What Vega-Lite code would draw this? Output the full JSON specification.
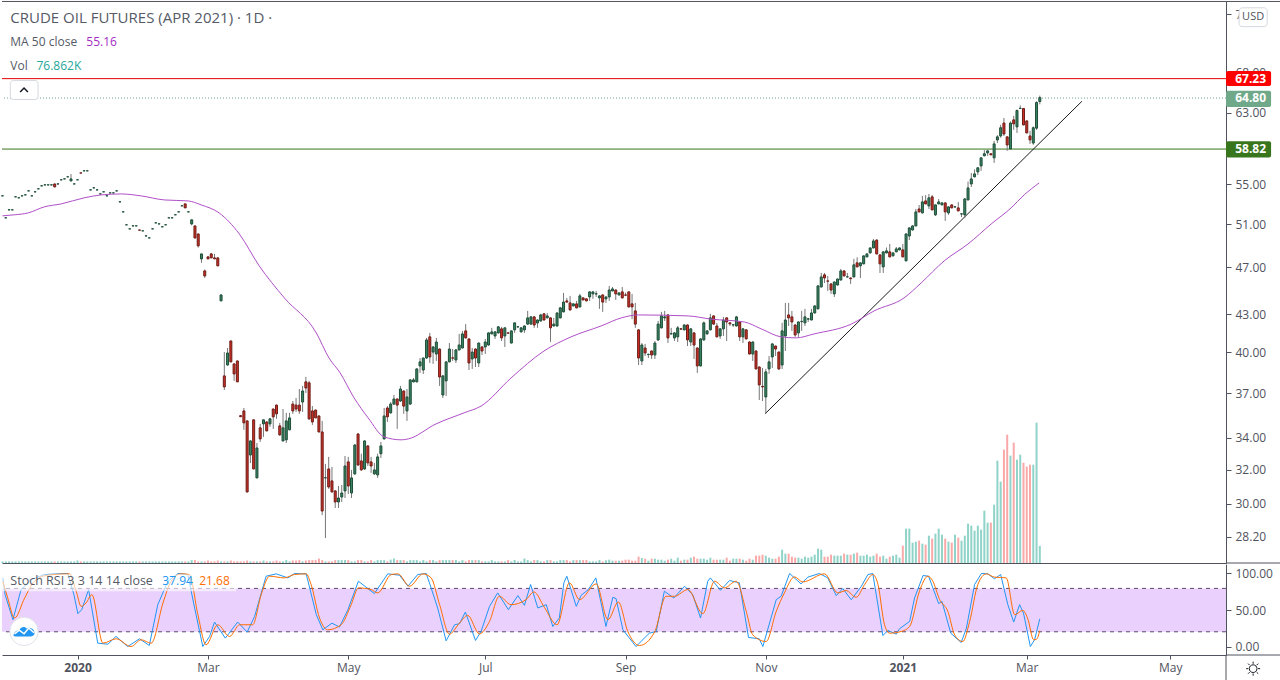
{"$schema":"https://vega.github.io/schema/vega-lite/v6.json","padding":0,"spacing":0,"background":"#ffffff","config":{"view":{"stroke":null},"font":"Open Sans","concat":{"spacing":0},"scale":{"continuousPadding":0},"axis":{"title":null}},
"datasets":{
"ohlc":[
{"i":0,"o":53.82,"h":53.84,"l":53.82,"c":53.83,"v":7},{"i":1,"o":51.62,"h":51.64,"l":51.62,"c":51.63,"v":7},{"i":2,"o":52.41,"h":52.43,"l":52.41,"c":52.42,"v":7},{"i":3,"o":52.41,"h":52.43,"l":52.41,"c":52.42,"v":7},{"i":4,"o":53.72,"h":53.74,"l":53.72,"c":53.73,"v":7},{"i":5,"o":53.62,"h":53.64,"l":53.62,"c":53.63,"v":7},{"i":6,"o":53.82,"h":53.84,"l":53.82,"c":53.83,"v":7},{"i":7,"o":53.92,"h":53.94,"l":53.92,"c":53.93,"v":7},{"i":8,"o":54.33,"h":54.35,"l":54.33,"c":54.34,"v":7},{"i":9,"o":53.82,"h":53.84,"l":53.82,"c":53.83,"v":7},
{"i":10,"o":54.23,"h":54.25,"l":54.23,"c":54.24,"v":7},{"i":11,"o":54.54,"h":54.56,"l":54.54,"c":54.55,"v":7},{"i":12,"o":54.85,"h":54.87,"l":54.85,"c":54.86,"v":7},{"i":13,"o":54.95,"h":54.97,"l":54.95,"c":54.96,"v":7},{"i":14,"o":54.95,"h":54.97,"l":54.95,"c":54.96,"v":7},{"i":15,"o":54.95,"h":54.97,"l":54.95,"c":54.96,"v":7},{"i":16,"o":55.05,"h":55.1,"l":54.7,"c":54.75,"v":7},{"i":17,"o":55.05,"h":55.07,"l":55.05,"c":55.06,"v":7},{"i":18,"o":55.48,"h":55.5,"l":55.48,"c":55.49,"v":7},{"i":19,"o":55.58,"h":55.6,"l":55.58,"c":55.59,"v":7},
{"i":20,"o":55.8,"h":55.82,"l":55.8,"c":55.81,"v":7},{"i":21,"o":55.37,"h":56.1,"l":55.35,"c":55.58,"v":7},{"i":22,"o":55.05,"h":55.07,"l":55.05,"c":55.06,"v":7},{"i":23,"o":55.48,"h":55.5,"l":55.48,"c":55.49,"v":11},{"i":24,"o":56.22,"h":56.24,"l":56.2,"c":56.2,"v":7},{"i":25,"o":56.44,"h":56.46,"l":56.44,"c":56.45,"v":7},{"i":26,"o":56.44,"h":56.46,"l":56.44,"c":56.45,"v":7},{"i":27,"o":54.43,"h":54.45,"l":54.43,"c":54.44,"v":7},{"i":28,"o":54.64,"h":54.66,"l":54.64,"c":54.65,"v":7},{"i":29,"o":54.43,"h":54.45,"l":54.43,"c":54.44,"v":7},
{"i":30,"o":54.02,"h":54.04,"l":54.02,"c":54.03,"v":7},{"i":31,"o":54.23,"h":54.25,"l":54.23,"c":54.24,"v":7},{"i":32,"o":53.82,"h":53.84,"l":53.82,"c":53.83,"v":7},{"i":33,"o":54.12,"h":54.14,"l":54.12,"c":54.13,"v":7},{"i":34,"o":54.12,"h":54.14,"l":54.12,"c":54.13,"v":7},{"i":35,"o":54.33,"h":54.35,"l":54.33,"c":54.34,"v":7},{"i":36,"o":53.21,"h":53.23,"l":53.21,"c":53.22,"v":7},{"i":37,"o":52.21,"h":52.23,"l":52.21,"c":52.22,"v":7},{"i":38,"o":50.94,"h":50.96,"l":50.94,"c":50.95,"v":7},{"i":39,"o":50.55,"h":50.57,"l":50.55,"c":50.56,"v":7},
{"i":40,"o":50.84,"h":50.86,"l":50.84,"c":50.85,"v":7},{"i":41,"o":50.84,"h":50.86,"l":50.84,"c":50.85,"v":7},{"i":42,"o":50.45,"h":50.46,"l":50.43,"c":50.43,"v":7},{"i":43,"o":50.36,"h":50.38,"l":50.36,"c":50.37,"v":7},{"i":44,"o":49.88,"h":49.9,"l":49.88,"c":49.89,"v":7},{"i":45,"o":49.69,"h":49.71,"l":49.69,"c":49.7,"v":7},{"i":46,"o":50.55,"h":50.57,"l":50.55,"c":50.56,"v":7},{"i":47,"o":51.13,"h":51.15,"l":51.13,"c":51.14,"v":7},{"i":48,"o":51.03,"h":51.05,"l":51.03,"c":51.04,"v":7},{"i":49,"o":50.75,"h":50.77,"l":50.75,"c":50.76,"v":7},
{"i":50,"o":50.94,"h":50.96,"l":50.94,"c":50.95,"v":7},{"i":51,"o":51.62,"h":51.64,"l":51.62,"c":51.63,"v":7},{"i":52,"o":51.62,"h":51.64,"l":51.62,"c":51.63,"v":7},{"i":53,"o":51.92,"h":51.94,"l":51.92,"c":51.93,"v":7},{"i":54,"o":52.21,"h":52.23,"l":52.21,"c":52.22,"v":7},{"i":55,"o":52.81,"h":52.83,"l":52.81,"c":52.82,"v":7},{"i":56,"o":53.01,"h":53.05,"l":52.6,"c":52.61,"v":7},{"i":57,"o":52.21,"h":52.23,"l":52.21,"c":52.22,"v":7},{"i":58,"o":51.03,"h":51.45,"l":50.9,"c":51.43,"v":13},{"i":59,"o":50.84,"h":50.88,"l":49.65,"c":49.69,"v":13},
{"i":60,"o":50.07,"h":50.1,"l":48.8,"c":48.95,"v":7},{"i":61,"o":47.76,"h":48.21,"l":47.4,"c":48.21,"v":7},{"i":62,"o":46.68,"h":46.8,"l":46.06,"c":46.24,"v":7},{"i":63,"o":47.94,"h":47.98,"l":47.74,"c":47.76,"v":11},{"i":64,"o":48.21,"h":48.3,"l":47.82,"c":47.85,"v":7},{"i":65,"o":47.85,"h":48.21,"l":47.74,"c":47.76,"v":7},{"i":66,"o":47.85,"h":47.88,"l":47.1,"c":47.13,"v":11},{"i":67,"o":44.1,"h":44.63,"l":44.08,"c":44.6,"v":7},{"i":68,"o":38.25,"h":40.02,"l":37.24,"c":37.46,"v":7},{"i":69,"o":39.05,"h":40.33,"l":39,"c":39.95,"v":7},
{"i":70,"o":40.87,"h":40.9,"l":39.25,"c":39.28,"v":11},{"i":71,"o":39.13,"h":39.15,"l":37.89,"c":38.39,"v":7},{"i":72,"o":39.35,"h":39.38,"l":37.8,"c":37.82,"v":7},{"i":73,"o":35.47,"h":35.5,"l":35.38,"c":35.4,"v":7},{"i":74,"o":35.79,"h":35.99,"l":34.53,"c":34.99,"v":7},{"i":75,"o":35.12,"h":35.15,"l":30.66,"c":30.69,"v":11},{"i":76,"o":32.92,"h":33.85,"l":32.42,"c":33.81,"v":7},{"i":77,"o":35.19,"h":35.22,"l":32.03,"c":32.06,"v":7},{"i":78,"o":31.52,"h":33.68,"l":31.5,"c":33.36,"v":7},{"i":79,"o":34.66,"h":34.92,"l":33.75,"c":33.94,"v":7},
{"i":80,"o":34.92,"h":35.2,"l":34.07,"c":35.19,"v":11},{"i":81,"o":35.05,"h":35.08,"l":34.43,"c":34.46,"v":7},{"i":82,"o":34.92,"h":35.28,"l":34.72,"c":35.26,"v":7},{"i":83,"o":35.92,"h":35.95,"l":34.59,"c":35.39,"v":7},{"i":84,"o":36.19,"h":36.22,"l":35.26,"c":35.59,"v":11},{"i":85,"o":34.79,"h":34.99,"l":34.14,"c":34.2,"v":7},{"i":86,"o":33.81,"h":35.92,"l":33.78,"c":34.66,"v":7},{"i":87,"o":33.88,"h":35.66,"l":33.68,"c":35.12,"v":13},{"i":88,"o":34.53,"h":35.66,"l":34.5,"c":35.32,"v":7},{"i":89,"o":36.26,"h":36.47,"l":35.59,"c":35.79,"v":11},
{"i":90,"o":36.19,"h":36.68,"l":35.72,"c":35.92,"v":11},{"i":91,"o":36.19,"h":37.31,"l":35.59,"c":35.79,"v":13},{"i":92,"o":36.4,"h":37.53,"l":35.72,"c":37.17,"v":7},{"i":93,"o":37.82,"h":38.18,"l":37.03,"c":37.38,"v":11},{"i":94,"o":37.75,"h":37.89,"l":35.2,"c":35.25,"v":13},{"i":95,"o":35.79,"h":36.12,"l":34.85,"c":35.05,"v":13},{"i":96,"o":35.85,"h":35.88,"l":35.3,"c":35.32,"v":13},{"i":97,"o":35.45,"h":35.48,"l":34.37,"c":34.39,"v":20},{"i":98,"o":34.39,"h":35.12,"l":29.37,"c":29.6,"v":13},{"i":99,"o":31.52,"h":32.37,"l":28.12,"c":31.53,"v":7},
{"i":100,"o":32.06,"h":32.8,"l":30.87,"c":30.98,"v":7},{"i":101,"o":31.34,"h":32.18,"l":30.66,"c":30.69,"v":7},{"i":102,"o":30.75,"h":30.78,"l":29.77,"c":30.11,"v":13},{"i":103,"o":30.11,"h":31.04,"l":29.77,"c":30.34,"v":13},{"i":104,"o":30.4,"h":31.1,"l":30.11,"c":30.63,"v":13},{"i":105,"o":30.75,"h":32.86,"l":30.34,"c":32.24,"v":13},{"i":106,"o":32.49,"h":32.8,"l":30.57,"c":31.04,"v":13},{"i":107,"o":30.63,"h":32,"l":30.34,"c":31.52,"v":7},{"i":108,"o":31.76,"h":33.6,"l":31.7,"c":33.55,"v":7},{"i":109,"o":34.26,"h":34.3,"l":32.25,"c":32.3,"v":13},
{"i":110,"o":32.55,"h":33,"l":31.95,"c":32,"v":13},{"i":111,"o":32.06,"h":33.85,"l":32,"c":33.81,"v":7},{"i":112,"o":33.49,"h":33.55,"l":32.24,"c":32.43,"v":7},{"i":113,"o":32.49,"h":32.8,"l":31.82,"c":32.24,"v":13},{"i":114,"o":31.76,"h":32.43,"l":31.7,"c":32,"v":7},{"i":115,"o":31.7,"h":33,"l":31.52,"c":32.8,"v":13},{"i":116,"o":33,"h":33.75,"l":32.74,"c":33.49,"v":13},{"i":117,"o":33.94,"h":36,"l":33.9,"c":35.45,"v":13},{"i":118,"o":35.99,"h":36.12,"l":35.05,"c":35.39,"v":7},{"i":119,"o":35.66,"h":36.4,"l":35.6,"c":36.26,"v":15},
{"i":120,"o":36.26,"h":36.89,"l":36.2,"c":36.61,"v":20},{"i":121,"o":36.61,"h":36.65,"l":34.59,"c":36.19,"v":13},{"i":122,"o":36.47,"h":37.53,"l":36.4,"c":37.31,"v":13},{"i":123,"o":37.17,"h":37.2,"l":35.59,"c":36.12,"v":13},{"i":124,"o":35.79,"h":37.31,"l":35.12,"c":36.75,"v":7},{"i":125,"o":36.26,"h":38,"l":36.2,"c":37.96,"v":13},{"i":126,"o":37.82,"h":38.1,"l":37.78,"c":37.96,"v":13},{"i":127,"o":37.82,"h":38.8,"l":37.78,"c":38.76,"v":13},{"i":128,"o":38.98,"h":39.57,"l":38.47,"c":39.28,"v":7},{"i":129,"o":38.68,"h":39.6,"l":38.39,"c":39.57,"v":13},
{"i":130,"o":39.57,"h":41.11,"l":39.5,"c":40.95,"v":7},{"i":131,"o":41.19,"h":41.5,"l":39.2,"c":39.65,"v":13},{"i":132,"o":40.02,"h":40.45,"l":39.13,"c":40.41,"v":13},{"i":133,"o":39.87,"h":41.11,"l":39.35,"c":40.79,"v":7},{"i":134,"o":40.25,"h":40.3,"l":37.53,"c":38.17,"v":13},{"i":135,"o":36.89,"h":38.3,"l":36.68,"c":38.25,"v":13},{"i":136,"o":37.89,"h":39.3,"l":36.82,"c":39.28,"v":13},{"i":137,"o":39.28,"h":40.71,"l":39.25,"c":40.25,"v":13},{"i":138,"o":39.58,"h":40.25,"l":39.35,"c":39.56,"v":13},{"i":139,"o":39.42,"h":40.25,"l":39.2,"c":40.18,"v":13},
{"i":140,"o":40.18,"h":41.42,"l":40.15,"c":40.56,"v":7},{"i":141,"o":40.33,"h":41.66,"l":40.3,"c":41.42,"v":13},{"i":142,"o":41.66,"h":42.2,"l":41.05,"c":41.11,"v":7},{"i":143,"o":41.03,"h":41.06,"l":38.68,"c":39.2,"v":13},{"i":144,"o":39.5,"h":40.33,"l":38.76,"c":40.02,"v":13},{"i":145,"o":40.25,"h":40.3,"l":38.9,"c":39.57,"v":13},{"i":146,"o":39.2,"h":40.75,"l":38.9,"c":40.71,"v":13},{"i":147,"o":40.41,"h":40.45,"l":39.8,"c":40.1,"v":7},{"i":148,"o":40.41,"h":41.03,"l":39.87,"c":40.79,"v":7},{"i":149,"o":40.56,"h":41.55,"l":40.5,"c":41.5,"v":7},
{"i":150,"o":41.42,"h":41.9,"l":41.4,"c":41.58,"v":13},{"i":151,"o":41.26,"h":41.62,"l":41.03,"c":41.58,"v":7},{"i":152,"o":41.5,"h":42.05,"l":41.45,"c":41.98,"v":7},{"i":153,"o":41.82,"h":41.98,"l":40.87,"c":41.11,"v":7},{"i":154,"o":41.26,"h":41.95,"l":40.41,"c":41.9,"v":7},{"i":155,"o":41.5,"h":41.55,"l":41.45,"c":41.48,"v":13},{"i":156,"o":40.71,"h":41.7,"l":40.68,"c":41.66,"v":7},{"i":157,"o":41.74,"h":42.3,"l":41.5,"c":42.3,"v":13},{"i":158,"o":41.98,"h":42.05,"l":41.9,"c":41.99,"v":7},{"i":159,"o":41.58,"h":41.95,"l":41.55,"c":41.9,"v":7},
{"i":160,"o":41.74,"h":42.1,"l":41.5,"c":42.05,"v":20},{"i":161,"o":42.2,"h":43.27,"l":42.15,"c":42.7,"v":13},{"i":162,"o":42.2,"h":42.85,"l":42.15,"c":42.78,"v":7},{"i":163,"o":42.78,"h":42.86,"l":41.9,"c":42.13,"v":13},{"i":164,"o":42.29,"h":42.58,"l":41.9,"c":42.53,"v":13},{"i":165,"o":42.45,"h":43.03,"l":42.4,"c":42.94,"v":7},{"i":166,"o":43.03,"h":43.08,"l":42.5,"c":42.53,"v":7},{"i":167,"o":42.7,"h":43.1,"l":42.66,"c":42.86,"v":13},{"i":168,"o":42.7,"h":42.75,"l":40.8,"c":41.9,"v":13},{"i":169,"o":42.05,"h":42.7,"l":42,"c":42.2,"v":7},
{"i":170,"o":42.05,"h":43.15,"l":42,"c":43.1,"v":7},{"i":171,"o":42.7,"h":43.6,"l":42.66,"c":43.52,"v":13},{"i":172,"o":43.19,"h":44.77,"l":43.15,"c":44,"v":13},{"i":173,"o":44.1,"h":44.35,"l":43.96,"c":44,"v":13},{"i":174,"o":43.93,"h":44.52,"l":43.3,"c":43.35,"v":7},{"i":175,"o":43.68,"h":43.9,"l":43.64,"c":43.85,"v":13},{"i":176,"o":43.85,"h":44.1,"l":43.48,"c":43.52,"v":13},{"i":177,"o":43.6,"h":44.69,"l":43.56,"c":44.52,"v":13},{"i":178,"o":44.35,"h":44.4,"l":44.14,"c":44.18,"v":13},{"i":179,"o":44.27,"h":44.32,"l":44.06,"c":44.1,"v":13},
{"i":180,"o":44.43,"h":44.9,"l":44.1,"c":44.86,"v":7},{"i":181,"o":44.69,"h":44.9,"l":44.27,"c":44.86,"v":7},{"i":182,"o":44.68,"h":44.94,"l":44.43,"c":44.7,"v":7},{"i":183,"o":44.35,"h":44.56,"l":43.44,"c":44.52,"v":13},{"i":184,"o":44.6,"h":44.65,"l":43.19,"c":44,"v":6},{"i":185,"o":44.27,"h":44.47,"l":43.93,"c":44.43,"v":12},{"i":186,"o":44.43,"h":45.37,"l":44.1,"c":45.02,"v":15},{"i":187,"o":44.94,"h":45.28,"l":44.9,"c":45.11,"v":10.5},{"i":188,"o":45.02,"h":45.06,"l":44.18,"c":44.69,"v":10.5},{"i":189,"o":44.6,"h":44.82,"l":44.56,"c":44.77,"v":10.5},
{"i":190,"o":44.86,"h":45.28,"l":44.3,"c":44.35,"v":10.5},{"i":191,"o":44.6,"h":44.8,"l":44.5,"c":44.58,"v":15},{"i":192,"o":44.86,"h":44.9,"l":43.55,"c":43.6,"v":15},{"i":193,"o":43.85,"h":44.69,"l":42.6,"c":43.6,"v":10.5},{"i":194,"o":43.27,"h":43.93,"l":41.9,"c":42.2,"v":10.5},{"i":195,"o":41.74,"h":41.8,"l":39.05,"c":39.57,"v":28.5},{"i":196,"o":39.35,"h":40.71,"l":39.05,"c":40.56,"v":22.5},{"i":197,"o":40.33,"h":40.64,"l":39.72,"c":39.95,"v":19.5},{"i":198,"o":39.83,"h":39.9,"l":39.57,"c":39.85,"v":10.5},{"i":199,"o":40.1,"h":40.15,"l":39.5,"c":39.8,"v":19.5},
{"i":200,"o":39.8,"h":40.87,"l":39.5,"c":40.71,"v":19.5},{"i":201,"o":40.95,"h":42.45,"l":40.87,"c":42.2,"v":15},{"i":202,"o":41.9,"h":43.19,"l":41.85,"c":42.86,"v":15},{"i":203,"o":42.7,"h":43.27,"l":42.45,"c":42.78,"v":10.5},{"i":204,"o":42.94,"h":43,"l":40.71,"c":41.11,"v":15},{"i":205,"o":41.42,"h":41.9,"l":41.38,"c":41.44,"v":19.5},{"i":206,"o":41.11,"h":41.55,"l":40.87,"c":41.5,"v":10.5},{"i":207,"o":41.19,"h":42.05,"l":40.79,"c":41.9,"v":24},{"i":208,"o":41.82,"h":41.88,"l":41.76,"c":41.8,"v":10.5},{"i":209,"o":41.74,"h":42.18,"l":41.7,"c":42.13,"v":15},
{"i":210,"o":42.13,"h":42.18,"l":40.48,"c":40.95,"v":15},{"i":211,"o":40.79,"h":41.88,"l":40.48,"c":41.82,"v":24},{"i":212,"o":41.5,"h":41.55,"l":39.5,"c":40.56,"v":28.5},{"i":213,"o":40.33,"h":40.38,"l":38.47,"c":38.98,"v":19.5},{"i":214,"o":38.98,"h":41.08,"l":38.94,"c":41.03,"v":19.5},{"i":215,"o":40.95,"h":42.4,"l":40.9,"c":42.3,"v":19.5},{"i":216,"o":41.42,"h":41.7,"l":41.38,"c":41.66,"v":15},{"i":217,"o":41.74,"h":43.03,"l":41.7,"c":42.7,"v":24},{"i":218,"o":42.86,"h":42.9,"l":42.15,"c":42.2,"v":15},{"i":219,"o":42.05,"h":42.3,"l":41.15,"c":41.19,"v":15},
{"i":220,"o":41.26,"h":41.87,"l":41.03,"c":41.82,"v":15},{"i":221,"o":41.82,"h":42.78,"l":41.26,"c":42.53,"v":15},{"i":222,"o":42.7,"h":42.75,"l":40.87,"c":42.37,"v":24},{"i":223,"o":42.3,"h":42.35,"l":42.05,"c":42.22,"v":10.5},{"i":224,"o":42.13,"h":42.2,"l":41.98,"c":42.15,"v":19.5},{"i":225,"o":42.05,"h":42.86,"l":42,"c":42.78,"v":19.5},{"i":226,"o":42.37,"h":42.42,"l":40.87,"c":41.19,"v":19.5},{"i":227,"o":41.19,"h":41.87,"l":40.71,"c":41.82,"v":15},{"i":228,"o":41.74,"h":41.8,"l":41,"c":41.03,"v":10.5},{"i":229,"o":40.79,"h":40.85,"l":39.84,"c":39.87,"v":19.5},
{"i":230,"o":39.87,"h":40.85,"l":39.35,"c":40.79,"v":15},{"i":231,"o":40.1,"h":40.15,"l":38.72,"c":38.76,"v":33},{"i":232,"o":38.9,"h":38.95,"l":36.54,"c":37.6,"v":33},{"i":233,"o":37.5,"h":38.83,"l":36.47,"c":37.46,"v":37.5},{"i":234,"o":36.75,"h":38.76,"l":35.59,"c":38.54,"v":33},{"i":235,"o":38.76,"h":39.72,"l":38.39,"c":39.28,"v":24},{"i":236,"o":39.65,"h":40.71,"l":38.83,"c":40.64,"v":19.5},{"i":237,"o":40.48,"h":40.52,"l":39.72,"c":40.25,"v":19.5},{"i":238,"o":40.02,"h":40.07,"l":38.68,"c":38.76,"v":28.5},{"i":239,"o":39.05,"h":42.3,"l":38.76,"c":41.66,"v":60},
{"i":240,"o":41.26,"h":43.93,"l":40.1,"c":42.53,"v":42},{"i":241,"o":42.94,"h":43.93,"l":42.05,"c":42.7,"v":42},{"i":242,"o":42.78,"h":43.27,"l":41.66,"c":42.37,"v":28.5},{"i":243,"o":42.13,"h":42.18,"l":41.19,"c":41.34,"v":24},{"i":244,"o":41.5,"h":42.42,"l":41.19,"c":42.37,"v":24},{"i":245,"o":42.4,"h":43.27,"l":41.66,"c":42.42,"v":19.5},{"i":246,"o":42.3,"h":43.44,"l":42.05,"c":42.78,"v":28.5},{"i":247,"o":42.6,"h":42.7,"l":42.37,"c":42.62,"v":24},{"i":248,"o":42.53,"h":43.44,"l":42.5,"c":43.1,"v":28.5},{"i":249,"o":43.1,"h":43.72,"l":43.06,"c":43.68,"v":37.5},
{"i":250,"o":43.44,"h":45.42,"l":43.4,"c":45.37,"v":64.5},{"i":251,"o":45.28,"h":46.5,"l":45.24,"c":46.15,"v":60},{"i":252,"o":46.33,"h":46.5,"l":45.62,"c":46.06,"v":28.5},{"i":253,"o":45.8,"h":46.24,"l":44.94,"c":45.78,"v":28.5},{"i":254,"o":45.54,"h":45.6,"l":44.69,"c":45.02,"v":37.5},{"i":255,"o":44.69,"h":45.76,"l":44.43,"c":45.71,"v":33},{"i":256,"o":45.45,"h":46.02,"l":45.4,"c":45.97,"v":33},{"i":257,"o":45.88,"h":46.86,"l":45.84,"c":46.68,"v":33},{"i":258,"o":46.68,"h":46.72,"l":46.2,"c":46.24,"v":42},{"i":259,"o":46.15,"h":46.5,"l":46.1,"c":46.16,"v":37.5},
{"i":260,"o":46.06,"h":46.1,"l":45.54,"c":46,"v":37.5},{"i":261,"o":46.15,"h":47.76,"l":46.1,"c":47.22,"v":42},{"i":262,"o":47.4,"h":47.9,"l":47,"c":47.04,"v":46.5},{"i":263,"o":47.13,"h":47.45,"l":46.06,"c":47.4,"v":33},{"i":264,"o":47.31,"h":48.08,"l":47.27,"c":48.03,"v":33},{"i":265,"o":47.94,"h":48.25,"l":47.9,"c":48.21,"v":37.5},{"i":266,"o":48.3,"h":48.8,"l":48.26,"c":48.76,"v":28.5},{"i":267,"o":48.76,"h":49.6,"l":48.72,"c":49.41,"v":33},{"i":268,"o":49.5,"h":49.54,"l":48.17,"c":48.21,"v":42},{"i":269,"o":48.12,"h":48.16,"l":46.5,"c":47.31,"v":28.5},
{"i":270,"o":47.04,"h":48.45,"l":46.5,"c":48.4,"v":33},{"i":271,"o":48.3,"h":48.8,"l":48.26,"c":48.49,"v":19.5},{"i":272,"o":48.4,"h":49.13,"l":47.9,"c":47.94,"v":28.5},{"i":273,"o":48.03,"h":48.35,"l":48,"c":48.3,"v":33},{"i":274,"o":48.4,"h":48.85,"l":48.36,"c":48.67,"v":37.5},{"i":275,"o":48.58,"h":48.8,"l":48.54,"c":48.76,"v":24},{"i":276,"o":48.58,"h":49.13,"l":47.9,"c":47.94,"v":78},{"i":277,"o":47.58,"h":50.12,"l":47.54,"c":50.07,"v":154.5},{"i":278,"o":49.88,"h":50.7,"l":49.5,"c":50.65,"v":154.5},{"i":279,"o":50.45,"h":50.9,"l":50.4,"c":50.84,"v":91.5},
{"i":280,"o":50.84,"h":52.5,"l":50.8,"c":52.21,"v":96},{"i":281,"o":52.5,"h":52.9,"l":52.17,"c":52.21,"v":100.5},{"i":282,"o":52.11,"h":53.82,"l":52.06,"c":53.21,"v":87},{"i":283,"o":53.31,"h":53.9,"l":52.97,"c":53.01,"v":82.5},{"i":284,"o":52.81,"h":54.02,"l":52.5,"c":53.62,"v":123},{"i":285,"o":53.72,"h":53.92,"l":52.37,"c":52.41,"v":109.5},{"i":286,"o":51.92,"h":52.95,"l":51.8,"c":52.91,"v":132},{"i":287,"o":53.01,"h":53.5,"l":52.97,"c":53.21,"v":154.5},{"i":288,"o":52.91,"h":53.15,"l":52.87,"c":53.11,"v":127.5},{"i":289,"o":53.11,"h":53.15,"l":51.33,"c":52.21,"v":109.5},
{"i":290,"o":52.11,"h":52.75,"l":51.92,"c":52.71,"v":96},{"i":291,"o":52.91,"h":52.95,"l":52.57,"c":52.61,"v":91.5},{"i":292,"o":52.7,"h":52.76,"l":52.66,"c":52.72,"v":127.5},{"i":293,"o":52.61,"h":53.21,"l":52.27,"c":52.31,"v":114},{"i":294,"o":52,"h":52.06,"l":51.7,"c":52.02,"v":100.5},{"i":295,"o":51.92,"h":53.6,"l":51.6,"c":53.51,"v":123},{"i":296,"o":53.41,"h":55.3,"l":53.37,"c":54.64,"v":177},{"i":297,"o":55.05,"h":56.2,"l":54.74,"c":55.58,"v":168},{"i":298,"o":55.8,"h":56.6,"l":55.76,"c":56.11,"v":145.5},{"i":299,"o":56.33,"h":56.81,"l":56,"c":56.77,"v":168},
{"i":300,"o":56.97,"h":57.89,"l":56.44,"c":57.85,"v":150},{"i":301,"o":58.07,"h":58.7,"l":58.03,"c":58.3,"v":235.5},{"i":302,"o":58.4,"h":58.66,"l":58.07,"c":58.62,"v":181.5},{"i":303,"o":58.3,"h":58.34,"l":58.14,"c":58.18,"v":181.5},{"i":304,"o":57.85,"h":59.74,"l":57.3,"c":59.4,"v":262.5},{"i":305,"o":59.85,"h":60.4,"l":59.5,"c":60.2,"v":460.5},{"i":306,"o":60.3,"h":61.6,"l":60.1,"c":61.25,"v":366},{"i":307,"o":61.8,"h":62.4,"l":60.3,"c":60.53,"v":510},{"i":308,"o":60.2,"h":60.24,"l":58.62,"c":59.28,"v":577.5},{"i":309,"o":58.84,"h":62,"l":58.8,"c":61.8,"v":483},
{"i":310,"o":62.17,"h":62.64,"l":61,"c":61.7,"v":541.5},{"i":311,"o":61.35,"h":63.4,"l":60.65,"c":63.29,"v":465},{"i":312,"o":63.53,"h":63.9,"l":63.49,"c":63.55,"v":487.5},{"i":313,"o":63.53,"h":63.57,"l":61.54,"c":61.58,"v":451.5},{"i":314,"o":62.05,"h":62.09,"l":60.61,"c":60.65,"v":433.5},{"i":315,"o":60.3,"h":60.9,"l":59.4,"c":59.85,"v":442.5},{"i":316,"o":59.5,"h":61.4,"l":59.3,"c":61.25,"v":442.5},{"i":317,"o":61.2,"h":64.4,"l":61,"c":64.26,"v":631.5},{"i":318,"o":64.38,"h":65.1,"l":64.03,"c":64.85,"v":76.862}
],
"ma":[{"i":0,"p":51.82},{"i":3.6,"p":51.92},{"i":7.9,"p":52.11},{"i":12.8,"p":52.71},{"i":18,"p":53.01},{"i":25,"p":53.62},{"i":30.2,"p":53.92},{"i":36.4,"p":54.02},{"i":42.5,"p":53.82},{"i":49.6,"p":53.41},{"i":56.9,"p":53.31},{"i":60.9,"p":52.91},{"i":66.4,"p":52.11},{"i":72.6,"p":50.07},{"i":78.7,"p":47.13},{"i":86.4,"p":44.35},{"i":96.2,"p":41.5},{"i":100.1,"p":39.57},{"i":103.5,"p":38.47},{"i":107.8,"p":36.68},{"i":112.1,"p":35.32},{"i":117,"p":34.07},{"i":122.2,"p":33.88},{"i":124.4,"p":33.94},{"i":132.9,"p":34.92},{"i":141.5,"p":35.66},{"i":146.7,"p":36.12},{"i":155.9,"p":38.1},{"i":166,"p":40.1},{"i":174.3,"p":41.19},{"i":183.5,"p":42.05},{"i":189.7,"p":42.7},{"i":194.9,"p":42.94},{"i":210.2,"p":42.86},{"i":217.2,"p":42.6},{"i":227.4,"p":42.37},{"i":232.6,"p":41.82},{"i":238.7,"p":41.19},{"i":243.3,"p":41.11},{"i":248.8,"p":41.42},{"i":260.2,"p":42.2},{"i":267.2,"p":43.27},{"i":276.4,"p":44.35},{"i":281.6,"p":45.62},{"i":288.7,"p":47.58},{"i":296,"p":49.13},{"i":303.1,"p":51.03},{"i":309.2,"p":52.61},{"i":313.2,"p":53.92},{"i":317.8,"p":55.16}],
"k":[{"i":0.1,"v":94},{"i":0.8,"v":71},{"i":3.2,"v":36.7},{"i":5.7,"v":78},{"i":8.8,"v":91.7},{"i":12.9,"v":98.6},{"i":20,"v":100},{"i":21.9,"v":71},{"i":23.1,"v":45},{"i":24.3,"v":50.5},{"i":26.4,"v":78},{"i":29.2,"v":4.6},{"i":32.3,"v":3.2},{"i":34.8,"v":13.8},{"i":38.4,"v":0},{"i":42,"v":10.6},{"i":45,"v":1.4},{"i":47.6,"v":57.3},{"i":50.7,"v":89.4},{"i":53.8,"v":100},{"i":56.8,"v":98.6},{"i":58.9,"v":52.8},{"i":61.4,"v":0},{"i":63.5,"v":13.8},{"i":65,"v":33.5},{"i":68.3,"v":11.5},{"i":72.1,"v":33.5},{"i":75,"v":19.8},{"i":77.3,"v":41.3},{"i":80.8,"v":96.3},{"i":83.9,"v":99.5},{"i":87.5,"v":94},{"i":89.5,"v":100},{"i":93.1,"v":99.5},{"i":96.2,"v":43.6},{"i":98.2,"v":22.9},{"i":101,"v":32},{"i":103.3,"v":26.6},{"i":105.9,"v":50.5},{"i":109.1,"v":89.4},{"i":114,"v":72.5},{"i":118.1,"v":99.5},{"i":121.7,"v":97.7},{"i":124.3,"v":82.6},{"i":127.3,"v":98.6},{"i":129.9,"v":100},{"i":131.4,"v":80.3},{"i":133.4,"v":52.8},{"i":136,"v":7.8},{"i":138.6,"v":29.8},{"i":140.1,"v":31.2},{"i":141.9,"v":47.2},{"i":145,"v":8.3},{"i":146.7,"v":20.6},{"i":149.3,"v":55},{"i":151.8,"v":73.4},{"i":155.1,"v":50.5},{"i":158,"v":69.7},{"i":160,"v":56.4},{"i":161.9,"v":84.9},{"i":164.1,"v":52.8},{"i":166.7,"v":57.3},{"i":168.7,"v":27.5},{"i":170.7,"v":39},{"i":172.1,"v":87.2},{"i":173,"v":96.3},{"i":175.9,"v":55},{"i":177.4,"v":70.2},{"i":179.6,"v":78},{"i":181.9,"v":94},{"i":185,"v":27.5},{"i":187.1,"v":67.4},{"i":188.1,"v":65.6},{"i":190.2,"v":22.9},{"i":194.2,"v":0},{"i":198.3,"v":18.3},{"i":200.4,"v":20.6},{"i":202.9,"v":75.7},{"i":205.8,"v":66.5},{"i":209.1,"v":82.6},{"i":211.6,"v":71},{"i":214,"v":39},{"i":216.2,"v":89.4},{"i":217,"v":94},{"i":220.1,"v":77},{"i":222.9,"v":90.4},{"i":225.9,"v":87.2},{"i":228.7,"v":12.4},{"i":232,"v":10.6},{"i":233.1,"v":0},{"i":237.2,"v":64.2},{"i":238.7,"v":68.8},{"i":241.3,"v":100},{"i":244.8,"v":85.8},{"i":246.9,"v":95},{"i":250.4,"v":100},{"i":253,"v":94},{"i":255.6,"v":69.7},{"i":257.6,"v":79.4},{"i":260.2,"v":64},{"i":263.3,"v":82.6},{"i":265.3,"v":98.6},{"i":266.8,"v":100},{"i":269.9,"v":15},{"i":271.4,"v":22},{"i":274,"v":17},{"i":275,"v":24.3},{"i":278.1,"v":34.4},{"i":279.6,"v":66.5},{"i":282.2,"v":97.2},{"i":283.9,"v":96.3},{"i":287,"v":58.7},{"i":288,"v":61.9},{"i":290.7,"v":18.3},{"i":293.9,"v":5.5},{"i":295.5,"v":25.2},{"i":298,"v":84.9},{"i":300.1,"v":100},{"i":302.1,"v":99.5},{"i":304.1,"v":92.7},{"i":306,"v":98.6},{"i":308.2,"v":57.3},{"i":310,"v":33.5},{"i":311.8,"v":57.3},{"i":313,"v":45.9},{"i":315.1,"v":0},{"i":316.4,"v":9.2},{"i":318,"v":37.94}],
"d":[{"i":0.1,"v":89.4},{"i":1.6,"v":66.5},{"i":3.7,"v":39},{"i":6.8,"v":66.5},{"i":9.8,"v":89.4},{"i":13.9,"v":97.7},{"i":20.5,"v":99.5},{"i":22.6,"v":75.7},{"i":24.1,"v":55},{"i":25.6,"v":59.6},{"i":27.4,"v":71},{"i":30.8,"v":4.6},{"i":34.8,"v":10.6},{"i":39.4,"v":0},{"i":42.5,"v":9.2},{"i":45.6,"v":4.6},{"i":49.2,"v":59.6},{"i":51.7,"v":89.4},{"i":54.8,"v":99.5},{"i":57.3,"v":98.6},{"i":59.9,"v":43.6},{"i":62.4,"v":2.3},{"i":66,"v":29.8},{"i":69.6,"v":13.8},{"i":72.7,"v":29.8},{"i":76.7,"v":29.8},{"i":79.3,"v":71},{"i":81.9,"v":96.3},{"i":86.4,"v":94},{"i":89.5,"v":98.6},{"i":93.1,"v":99.5},{"i":94.6,"v":84.9},{"i":97.2,"v":39},{"i":99.7,"v":22.9},{"i":103.8,"v":29.8},{"i":106.9,"v":57.3},{"i":109.1,"v":80.3},{"i":113,"v":78},{"i":115,"v":73.4},{"i":119.2,"v":98.6},{"i":121.2,"v":99.5},{"i":124.8,"v":82.6},{"i":128.9,"v":99.5},{"i":131.4,"v":94},{"i":134,"v":57.3},{"i":137,"v":17},{"i":140.1,"v":32.1},{"i":142.6,"v":42.7},{"i":146.2,"v":17.4},{"i":149.3,"v":34.4},{"i":152.3,"v":68.8},{"i":155.9,"v":57.3},{"i":160.5,"v":64.2},{"i":162.9,"v":74.8},{"i":166.1,"v":53.7},{"i":170,"v":29.8},{"i":173.8,"v":87.2},{"i":176.9,"v":64.2},{"i":182,"v":85.8},{"i":185.6,"v":36.7},{"i":188.8,"v":61},{"i":191.7,"v":20.6},{"i":195.3,"v":1.4},{"i":199.9,"v":19.7},{"i":203.4,"v":68.8},{"i":206,"v":68.8},{"i":210.1,"v":78},{"i":214.7,"v":45},{"i":218.3,"v":89.4},{"i":221.3,"v":80.3},{"i":224.9,"v":89.4},{"i":228,"v":48.2},{"i":230,"v":16},{"i":234.1,"v":6.9},{"i":237.2,"v":48.2},{"i":239.7,"v":73.4},{"i":242.8,"v":95.4},{"i":245.3,"v":88.5},{"i":252,"v":99.5},{"i":256.1,"v":73.4},{"i":258.6,"v":76.6},{"i":261.7,"v":67.4},{"i":264.3,"v":84.9},{"i":266.8,"v":98.6},{"i":268.4,"v":84.9},{"i":270.4,"v":29.8},{"i":272,"v":18.3},{"i":275.5,"v":20.6},{"i":278.1,"v":27.5},{"i":281.1,"v":75.7},{"i":283.7,"v":96.3},{"i":285.2,"v":89.4},{"i":287.3,"v":64.2},{"i":289.8,"v":48.2},{"i":291.9,"v":16},{"i":294.4,"v":6.9},{"i":296.5,"v":34.4},{"i":299,"v":84.9},{"i":301.6,"v":99.5},{"i":304.1,"v":95},{"i":307.7,"v":94},{"i":310.3,"v":43.6},{"i":312.8,"v":49.5},{"i":314.4,"v":36.7},{"i":316.1,"v":9.2},{"i":317,"v":10.1},{"i":318,"v":21.68}]
},
"vconcat":[
{"width":1224,"height":562,"resolve":{"scale":{"y":"independent"}},"layer":[
 {"data":{"name":"ohlc"},"mark":{"type":"bar","orient":"vertical","size":2},"encoding":{
   "x":{"field":"i","type":"quantitative","scale":{"domain":[-0.153,375.08],"nice":false,"zero":false},"axis":{"title":null,"labels":false,"ticks":false,"grid":false,"domain":true,"domainColor":"#50535e","values":[]}},
   "y":{"field":"v","type":"quantitative","stack":null,"scale":{"domain":[0,2529],"nice":false},"axis":null},
   "color":{"condition":{"test":"datum.c>=datum.o","value":"#8fd3c9"},"value":"#f9a9a8"}}},
 {"layer":[
  {"data":{"values":[{"a":-0.153,"b":391.9,"p":77.83},{"a":375.08,"b":391.9,"p":26.82}]},"mark":{"type":"rule","color":"#50535e","strokeWidth":1},"encoding":{
    "x":{"field":"a","type":"quantitative","scale":{"domain":[-0.153,375.08],"nice":false,"zero":false}},"x2":{"field":"b"},
    "y":{"field":"p","type":"quantitative","scale":{"type":"log","domain":[26.82,77.9],"nice":false},
      "axis":{"orient":"right","title":null,"grid":false,"values":[28.2,30,32,34,37,40,43,47,51,55,63,68,76],"format":".2f","labelFont":"Open Sans","labelFontSize":12,"labelColor":"#50535e","domainColor":"#50535e","tickColor":"#50535e","tickSize":5,"labelPadding":4,"labelBound":false,"labelOverlap":false}}}},
  {"data":{"values":[{"n":"Resistance","p":67.23}]},"mark":{"type":"rule","color":"#e60000","strokeWidth":1},"encoding":{"y":{"field":"p","type":"quantitative","scale":{"type":"log","domain":[26.82,77.9],"nice":false}}}},
  {"data":{"values":[{"n":"Support","p":58.82}]},"mark":{"type":"rule","color":"#38761d","strokeWidth":1},"encoding":{"y":{"field":"p","type":"quantitative","scale":{"type":"log","domain":[26.82,77.9],"nice":false}}}},
  {"data":{"values":[{"n":"Last","p":64.8}]},"mark":{"type":"rule","color":"#6fa98a","strokeWidth":1,"strokeDash":[1,2]},"encoding":{"y":{"field":"p","type":"quantitative","scale":{"type":"log","domain":[26.82,77.9],"nice":false}}}},
  {"data":{"values":[{"a":233.8,"b":330.9,"p":35.6,"q":64.4}]},"mark":{"type":"rule","color":"#1a1a1a","strokeWidth":1},"encoding":{
    "x":{"field":"a","type":"quantitative","scale":{"domain":[-0.153,375.08],"nice":false,"zero":false}},"x2":{"field":"b"},
    "y":{"field":"p","type":"quantitative","scale":{"type":"log","domain":[26.82,77.9],"nice":false}},"y2":{"field":"q"}}},
  {"data":{"name":"ohlc"},"mark":{"type":"rule","color":"#777777","strokeWidth":1},"encoding":{
    "x":{"field":"i","type":"quantitative","scale":{"domain":[-0.153,375.08],"nice":false,"zero":false}},
    "y":{"field":"h","type":"quantitative","scale":{"type":"log","domain":[26.82,77.9],"nice":false}},"y2":{"field":"l"}}},
  {"data":{"name":"ohlc"},"mark":{"type":"bar","orient":"vertical","size":2,"strokeWidth":1},"encoding":{
    "x":{"field":"i","type":"quantitative","scale":{"domain":[-0.153,375.08],"nice":false,"zero":false}},
    "y":{"field":"o","type":"quantitative","scale":{"type":"log","domain":[26.82,77.9],"nice":false}},"y2":{"field":"c"},
    "color":{"condition":{"test":"datum.c>=datum.o","value":"#3a8463"},"value":"#cc3125"},
    "stroke":{"condition":{"test":"datum.c>=datum.o","value":"#1d4d37"},"value":"#6e1d18"}}},
  {"data":{"name":"ma"},"mark":{"type":"line","color":"#b04fc8","strokeWidth":1,"interpolate":"monotone"},"encoding":{
    "x":{"field":"i","type":"quantitative","scale":{"domain":[-0.153,375.08],"nice":false,"zero":false}},
    "y":{"field":"p","type":"quantitative","scale":{"type":"log","domain":[26.82,77.9],"nice":false}}}},
  {"data":{"values":[{"a":375.08,"b":388.9,"lo":66.3,"hi":68.2,"n":"r"},{"a":375.08,"b":388.9,"lo":63.7,"hi":65.7,"n":"l"},{"a":375.08,"b":388.9,"lo":57.9,"hi":59.7,"n":"s"}]},"mark":{"type":"rect","cornerRadius":2},"encoding":{
    "x":{"field":"a","type":"quantitative","scale":{"domain":[-0.153,375.08],"nice":false,"zero":false}},"x2":{"field":"b"},
    "y":{"field":"lo","type":"quantitative","scale":{"type":"log","domain":[26.82,77.9],"nice":false}},"y2":{"field":"hi"},
    "color":{"field":"n","type":"nominal","scale":{"domain":["r","l","s"],"range":["#ff0000","#6fa98a","#38761d"]},"legend":null}}},
  {"data":{"values":[{"i":377.9,"p":67.23,"t":"67.23"},{"i":377.9,"p":64.8,"t":"64.80"},{"i":377.9,"p":58.82,"t":"58.82"}]},"mark":{"type":"text","align":"left","baseline":"middle","color":"#ffffff","fontSize":12,"fontWeight":"bold"},"encoding":{
    "x":{"field":"i","type":"quantitative","scale":{"domain":[-0.153,375.08],"nice":false,"zero":false}},
    "y":{"field":"p","type":"quantitative","scale":{"type":"log","domain":[26.82,77.9],"nice":false}},"text":{"field":"t"}}},
  {"data":{"values":[{"a":379.1,"b":387.7,"lo":74.2,"hi":76.9},{"a":2.4,"b":10.9,"lo":64.62,"hi":67}]},"mark":{"type":"rect","fill":"#ffffff","stroke":"#d6d8e0","strokeWidth":1,"cornerRadius":3},"encoding":{
    "x":{"field":"a","type":"quantitative","scale":{"domain":[-0.153,375.08],"nice":false,"zero":false}},"x2":{"field":"b"},
    "y":{"field":"lo","type":"quantitative","scale":{"type":"log","domain":[26.82,77.9],"nice":false}},"y2":{"field":"hi"}}},
  {"data":{"values":[{"i":383.4,"p":75.55,"t":"USD"}]},"mark":{"type":"text","align":"center","baseline":"middle","color":"#50535e","fontSize":11},"encoding":{
    "x":{"field":"i","type":"quantitative","scale":{"domain":[-0.153,375.08],"nice":false,"zero":false}},
    "y":{"field":"p","type":"quantitative","scale":{"type":"log","domain":[26.82,77.9],"nice":false}},"text":{"field":"t"}}},
  {"data":{"values":[{"i":6.6,"p":65.8}]},"mark":{"type":"point","shape":"M-1,0.5L0,-0.5L1,0.5","size":60,"filled":false,"stroke":"#131722","strokeWidth":1.5,"opacity":1},"encoding":{
    "x":{"field":"i","type":"quantitative","scale":{"domain":[-0.153,375.08],"nice":false,"zero":false}},
    "y":{"field":"p","type":"quantitative","scale":{"type":"log","domain":[26.82,77.9],"nice":false}}}},
  {"data":{"values":[{"i":2.4,"p":75.4,"t":"CRUDE OIL FUTURES (APR 2021) · 1D ·"}]},"mark":{"type":"text","align":"left","baseline":"middle","color":"#555a66","fontSize":15},"encoding":{
    "x":{"field":"i","type":"quantitative","scale":{"domain":[-0.153,375.08],"nice":false,"zero":false}},
    "y":{"field":"p","type":"quantitative","scale":{"type":"log","domain":[26.82,77.9],"nice":false}},"text":{"field":"t"}}},
  {"data":{"values":[{"i":2.4,"p":72.1,"t":"MA 50 close"},{"i":2.4,"p":68.9,"t":"Vol"}]},"mark":{"type":"text","align":"left","baseline":"middle","color":"#555a66","fontSize":12},"encoding":{
    "x":{"field":"i","type":"quantitative","scale":{"domain":[-0.153,375.08],"nice":false,"zero":false}},
    "y":{"field":"p","type":"quantitative","scale":{"type":"log","domain":[26.82,77.9],"nice":false}},"text":{"field":"t"}}},
  {"data":{"values":[{"i":25.7,"p":72.1,"t":"55.16"}]},"mark":{"type":"text","align":"left","baseline":"middle","color":"#a32cc4","fontSize":12},"encoding":{
    "x":{"field":"i","type":"quantitative","scale":{"domain":[-0.153,375.08],"nice":false,"zero":false}},
    "y":{"field":"p","type":"quantitative","scale":{"type":"log","domain":[26.82,77.9],"nice":false}},"text":{"field":"t"}}},
  {"data":{"values":[{"i":10.4,"p":68.9,"t":"76.862K"}]},"mark":{"type":"text","align":"left","baseline":"middle","color":"#26a69a","fontSize":12},"encoding":{
    "x":{"field":"i","type":"quantitative","scale":{"domain":[-0.153,375.08],"nice":false,"zero":false}},
    "y":{"field":"p","type":"quantitative","scale":{"type":"log","domain":[26.82,77.9],"nice":false}},"text":{"field":"t"}}}
 ]}
]},
{"width":1224,"height":91,"layer":[
  {"data":{"values":[{"a":79.6,"b":20.2}]},"mark":{"type":"rect","color":"#e9d0fd"},"encoding":{
    "y":{"field":"a","type":"quantitative","scale":{"domain":[-11.6,113],"nice":false,"zero":false}},"y2":{"field":"b"}}},
  {"data":{"values":[{"v":79.6},{"v":20.2}]},"mark":{"type":"rule","color":"#5c4a6e","strokeWidth":1,"strokeDash":[4,4]},"encoding":{
    "y":{"field":"v","type":"quantitative","scale":{"domain":[-11.6,113],"nice":false,"zero":false}}}},
  {"data":{"name":"k"},"mark":{"type":"line","color":"#2196f3","strokeWidth":1},"encoding":{
    "x":{"field":"i","type":"quantitative","scale":{"domain":[-0.153,375.08],"nice":false,"zero":false},
      "axis":{"title":null,"grid":false,"values":[23,63,106,148,191,234,276,314,358],"labelExpr":"datum.value==23?'2020':datum.value==63?'Mar':datum.value==106?'May':datum.value==148?'Jul':datum.value==191?'Sep':datum.value==234?'Nov':datum.value==276?'2021':datum.value==314?'Mar':'May'","labelFont":"Open Sans","labelFontSize":12,"labelColor":"#50535e","labelFontWeight":{"condition":{"test":"datum.value==23||datum.value==276","value":"bold"},"value":"normal"},"domainColor":"#50535e","tickColor":"#50535e","tickSize":4,"labelPadding":3}},
    "y":{"field":"v","type":"quantitative","scale":{"domain":[-11.6,113],"nice":false,"zero":false},
      "axis":{"orient":"right","title":null,"grid":false,"values":[0,50,100],"format":".2f","labelFont":"Open Sans","labelFontSize":12,"labelColor":"#50535e","domainColor":"#50535e","tickColor":"#50535e","tickSize":5,"labelPadding":4}}}},
  {"data":{"name":"d"},"mark":{"type":"line","color":"#ff6d00","strokeWidth":1,"interpolate":"monotone"},"encoding":{
    "x":{"field":"i","type":"quantitative","scale":{"domain":[-0.153,375.08],"nice":false,"zero":false}},
    "y":{"field":"v","type":"quantitative","scale":{"domain":[-11.6,113],"nice":false,"zero":false}}}},
  {"data":{"values":[{"a":-0.153,"b":71.6,"lo":75.6,"hi":99}]},"mark":{"type":"rect","fill":"#ffffff","opacity":0.6},"encoding":{
    "x":{"field":"a","type":"quantitative","scale":{"domain":[-0.153,375.08],"nice":false,"zero":false}},"x2":{"field":"b"},
    "y":{"field":"lo","type":"quantitative","scale":{"domain":[-11.6,113],"nice":false,"zero":false}},"y2":{"field":"hi"}}},
  {"data":{"values":[{"i":2.4,"v":89.4,"t":"Stoch RSI 3 3 14 14 close"}]},"mark":{"type":"text","align":"left","baseline":"middle","color":"#555a66","fontSize":12.5},"encoding":{
    "x":{"field":"i","type":"quantitative","scale":{"domain":[-0.153,375.08],"nice":false,"zero":false}},
    "y":{"field":"v","type":"quantitative","scale":{"domain":[-11.6,113],"nice":false,"zero":false}},"text":{"field":"t"}}},
  {"data":{"values":[{"i":49,"v":89.4,"t":"37.94"}]},"mark":{"type":"text","align":"left","baseline":"middle","color":"#2196f3","fontSize":12},"encoding":{
    "x":{"field":"i","type":"quantitative","scale":{"domain":[-0.153,375.08],"nice":false,"zero":false}},
    "y":{"field":"v","type":"quantitative","scale":{"domain":[-11.6,113],"nice":false,"zero":false}},"text":{"field":"t"}}},
  {"data":{"values":[{"i":60.3,"v":89.4,"t":"21.68"}]},"mark":{"type":"text","align":"left","baseline":"middle","color":"#ff6d00","fontSize":12},"encoding":{
    "x":{"field":"i","type":"quantitative","scale":{"domain":[-0.153,375.08],"nice":false,"zero":false}},
    "y":{"field":"v","type":"quantitative","scale":{"domain":[-11.6,113],"nice":false,"zero":false}},"text":{"field":"t"}}},
  {"data":{"values":[{"i":6.6,"v":20.6}]},"mark":{"type":"point","shape":"circle","size":804,"filled":true,"fill":"#ffffff","stroke":"#e0e3eb","strokeWidth":1,"opacity":1},"encoding":{
    "x":{"field":"i","type":"quantitative","scale":{"domain":[-0.153,375.08],"nice":false,"zero":false}},
    "y":{"field":"v","type":"quantitative","scale":{"domain":[-11.6,113],"nice":false,"zero":false}}}},
  {"data":{"values":[{"i":6.6,"v":21}]},"mark":{"type":"point","shape":"M-1,0.45C-1,0.1,-0.7,-0.1,-0.45,-0.1C-0.3,-0.45,0.1,-0.5,0.25,-0.25C0.55,-0.45,1,-0.2,1,0.2C1,0.4,0.8,0.5,0.6,0.5L-0.8,0.5Z","size":441,"filled":true,"fill":"#2196f3","opacity":1},"encoding":{
    "x":{"field":"i","type":"quantitative","scale":{"domain":[-0.153,375.08],"nice":false,"zero":false}},
    "y":{"field":"v","type":"quantitative","scale":{"domain":[-11.6,113],"nice":false,"zero":false}}}},
  {"data":{"values":[{"i":6.6,"v":21}]},"mark":{"type":"point","shape":"M-0.9,0.25L-0.45,-0.1L0,0.25L0.45,-0.3L0.95,0.15","size":441,"filled":false,"stroke":"#ffffff","strokeWidth":1.5,"opacity":1},"encoding":{
    "x":{"field":"i","type":"quantitative","scale":{"domain":[-0.153,375.08],"nice":false,"zero":false}},
    "y":{"field":"v","type":"quantitative","scale":{"domain":[-11.6,113],"nice":false,"zero":false}}}},
  {"data":{"values":[{"a":375.08,"b":391.9,"v":-11.6}]},"mark":{"type":"rule","color":"#50535e","strokeWidth":1},"encoding":{
    "x":{"field":"a","type":"quantitative","scale":{"domain":[-0.153,375.08],"nice":false,"zero":false}},"x2":{"field":"b"},
    "y":{"field":"v","type":"quantitative","scale":{"domain":[-11.6,113],"nice":false,"zero":false}}}},
  {"data":{"values":[{"a":375.08,"v":-11.6,"w":-47.5}]},"mark":{"type":"rule","color":"#50535e","strokeWidth":1},"encoding":{
    "x":{"field":"a","type":"quantitative","scale":{"domain":[-0.153,375.08],"nice":false,"zero":false}},
    "y":{"field":"v","type":"quantitative","scale":{"domain":[-11.6,113],"nice":false,"zero":false}},"y2":{"field":"w"}}},
  {"data":{"values":[{"i":383.4,"v":-30.3}]},"mark":{"type":"point","shape":"M0.55,0A0.55,0.55,0,1,1,-0.55,0A0.55,0.55,0,1,1,0.55,0ZM0.7,0L1,0M-0.7,0L-1,0M0,0.7L0,1M0,-0.7L0,-1M0.5,0.5L0.72,0.72M-0.5,0.5L-0.72,0.72M0.5,-0.5L0.72,-0.72M-0.5,-0.5L-0.72,-0.72","size":196,"filled":false,"stroke":"#131722","strokeWidth":1,"opacity":1},"encoding":{
    "x":{"field":"i","type":"quantitative","scale":{"domain":[-0.153,375.08],"nice":false,"zero":false}},
    "y":{"field":"v","type":"quantitative","scale":{"domain":[-11.6,113],"nice":false,"zero":false}}}}
]}
]}
